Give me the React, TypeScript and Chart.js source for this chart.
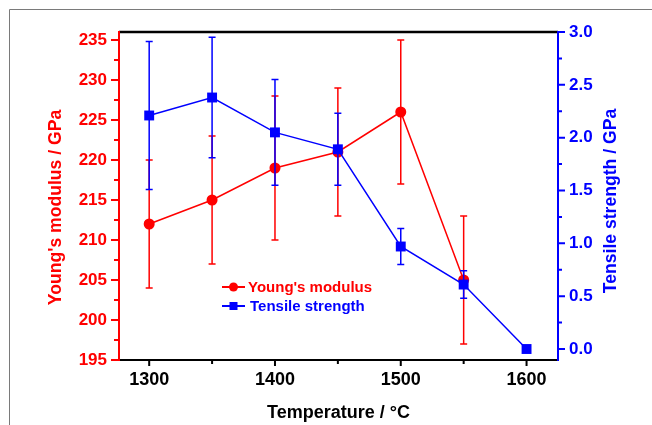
import { useEffect, useRef } from 'react';
import { Chart, registerables } from 'chart.js';

Chart.register(...registerables);

// ---- data ----
const youngTemps = [1300, 1350, 1400, 1450, 1500, 1550];
const youngModulus = [212, 215, 219, 221, 226, 205];
const youngError = [8, 8, 9, 8, 9, 8];

const tensileTemps = [1300, 1350, 1400, 1450, 1500, 1550, 1600];
const tensileStrength = [2.21, 2.38, 2.05, 1.89, 0.97, 0.61, 0.0];
const tensileError = [0.7, 0.57, 0.5, 0.34, 0.17, 0.13, 0];

const xMajorTicks = [1300, 1400, 1500, 1600];
const xMinorTicks = [1350, 1450, 1550];
const yLeftMajorTicks = [195, 200, 205, 210, 215, 220, 225, 230, 235];
const yLeftMinorTicks = [197.5, 202.5, 207.5, 212.5, 217.5, 222.5, 227.5, 232.5];
const yRightMajorTicks = [0, 0.5, 1.0, 1.5, 2.0, 2.5, 3.0];
const yRightMinorTicks = [0.25, 0.75, 1.25, 1.75, 2.25, 2.75];

const xTitle = 'Temperature / °C';
const yLeftTitle = "Young's modulus / GPa";
const yRightTitle = 'Tensile strength / GPa';
const youngLabel = "Young's modulus";
const tensileLabel = 'Tensile strength';

const RED = '#ff0000';
const BLUE = '#0000ff';
const FONT = '"Liberation Sans", Arial, Helvetica, sans-serif';

const errorsByDataset: number[][] = [tensileError, youngError];

const decorPlugin = {
  id: 'decor',
  beforeDraw(chart: any) {
    const { ctx, width, height } = chart;
    ctx.save();
    ctx.fillStyle = '#ffffff';
    ctx.fillRect(0, 0, width, height);
    ctx.strokeStyle = '#7a7a7a';
    ctx.lineWidth = 1;
    ctx.beginPath();
    ctx.moveTo(9.5, height);
    ctx.lineTo(9.5, 9.5);
    ctx.lineTo(width, 9.5);
    ctx.stroke();
    ctx.restore();
  },
  beforeDatasetDraw(chart: any, args: any) {
    const idx = args.index;
    const meta = chart.getDatasetMeta(idx);
    const ds = chart.data.datasets[idx];
    const yScale = chart.scales[meta.yAxisID];
    const errs = errorsByDataset[idx];
    const ctx = chart.ctx;
    ctx.save();
    ctx.strokeStyle = ds.borderColor;
    ctx.lineWidth = 1.5;
    meta.data.forEach((pt: any, i: number) => {
      const e = errs[i];
      if (!e) return;
      const v = ds.data[i].y;
      const yTop = yScale.getPixelForValue(v + e);
      const yBot = yScale.getPixelForValue(v - e);
      const x = pt.x;
      ctx.beginPath();
      ctx.moveTo(x, yTop);
      ctx.lineTo(x, yBot);
      ctx.moveTo(x - 3.5, yTop);
      ctx.lineTo(x + 3.5, yTop);
      ctx.moveTo(x - 3.5, yBot);
      ctx.lineTo(x + 3.5, yBot);
      ctx.stroke();
    });
    ctx.restore();
  },
  afterDraw(chart: any) {
    const { ctx, chartArea } = chart;
    const { left, right, top, bottom } = chartArea;
    const xs = chart.scales.x;
    const yl = chart.scales.y;
    const yr = chart.scales.y1;
    ctx.save();
    ctx.lineCap = 'butt';

    // ticks
    const tick = (color: string, fn: () => void) => {
      ctx.strokeStyle = color;
      ctx.lineWidth = 2;
      ctx.beginPath();
      fn();
      ctx.stroke();
    };
    tick(RED, () => {
      yLeftMajorTicks.forEach((v) => {
        const y = yl.getPixelForValue(v);
        ctx.moveTo(left, y);
        ctx.lineTo(left - 8, y);
      });
      yLeftMinorTicks.forEach((v) => {
        const y = yl.getPixelForValue(v);
        ctx.moveTo(left, y);
        ctx.lineTo(left - 5, y);
      });
    });
    tick(BLUE, () => {
      yRightMajorTicks.forEach((v) => {
        const y = yr.getPixelForValue(v);
        ctx.moveTo(right, y);
        ctx.lineTo(right + 7, y);
      });
      yRightMinorTicks.forEach((v) => {
        const y = yr.getPixelForValue(v);
        ctx.moveTo(right, y);
        ctx.lineTo(right + 4, y);
      });
    });
    tick('#000000', () => {
      xMajorTicks.forEach((v) => {
        const x = xs.getPixelForValue(v);
        ctx.moveTo(x, bottom);
        ctx.lineTo(x, bottom + 6);
      });
      xMinorTicks.forEach((v) => {
        const x = xs.getPixelForValue(v);
        ctx.moveTo(x, bottom);
        ctx.lineTo(x, bottom + 4);
      });
    });

    // axis lines
    ctx.strokeStyle = '#000000';
    ctx.lineWidth = 2.5;
    ctx.beginPath();
    ctx.moveTo(left, top);
    ctx.lineTo(right, top);
    ctx.stroke();
    ctx.lineWidth = 2;
    ctx.beginPath();
    ctx.moveTo(left, bottom);
    ctx.lineTo(right, bottom);
    ctx.stroke();
    ctx.strokeStyle = RED;
    ctx.beginPath();
    ctx.moveTo(left, top - 1);
    ctx.lineTo(left, bottom + 1);
    ctx.stroke();
    ctx.strokeStyle = BLUE;
    ctx.beginPath();
    ctx.moveTo(right, top - 1);
    ctx.lineTo(right, bottom + 1);
    ctx.stroke();

    // axis titles
    ctx.textAlign = 'center';
    ctx.textBaseline = 'middle';
    ctx.font = `bold 17.6px ${FONT}`;
    ctx.fillStyle = RED;
    ctx.save();
    ctx.translate(56, 207.5);
    ctx.rotate(-Math.PI / 2);
    ctx.fillText(yLeftTitle, 0, 0);
    ctx.restore();
    ctx.fillStyle = BLUE;
    ctx.save();
    ctx.translate(611, 201);
    ctx.rotate(-Math.PI / 2);
    ctx.fillText(yRightTitle, 0, 0);
    ctx.restore();
    ctx.fillStyle = '#000000';
    ctx.font = `bold 18px ${FONT}`;
    ctx.fillText(xTitle, (left + right) / 2, 413);

    // legend
    ctx.font = `bold 15px ${FONT}`;
    ctx.textAlign = 'left';
    const rows = [
      { label: youngLabel, color: RED, shape: 'circle', y: 287, tx: 248 },
      { label: tensileLabel, color: BLUE, shape: 'rect', y: 306, tx: 250 },
    ];
    rows.forEach((r) => {
      ctx.strokeStyle = r.color;
      ctx.fillStyle = r.color;
      ctx.lineWidth = 2;
      ctx.beginPath();
      ctx.moveTo(222, r.y);
      ctx.lineTo(245, r.y);
      ctx.stroke();
      ctx.beginPath();
      if (r.shape === 'circle') {
        ctx.arc(233.5, r.y, 4.5, 0, Math.PI * 2);
      } else {
        ctx.rect(229.5, r.y - 4, 8, 8);
      }
      ctx.fill();
      ctx.fillText(r.label, r.tx, r.y + 1);
    });
    ctx.restore();
  },
};

export default function App() {
  const canvasRef = useRef<HTMLCanvasElement | null>(null);

  useEffect(() => {
    const canvas = canvasRef.current;
    if (!canvas) return;
    const chart = new Chart(canvas, {
      type: 'line',
      data: {
        datasets: [
          {
            label: tensileLabel,
            data: tensileTemps.map((t, i) => ({ x: t, y: tensileStrength[i] })),
            yAxisID: 'y1',
            borderColor: BLUE,
            backgroundColor: BLUE,
            borderWidth: 1.5,
            pointStyle: 'rect',
            pointRadius: 7,
            pointBorderWidth: 0,
            tension: 0,
            order: 0,
          },
          {
            label: youngLabel,
            data: youngTemps.map((t, i) => ({ x: t, y: youngModulus[i] })),
            yAxisID: 'y',
            borderColor: RED,
            backgroundColor: RED,
            borderWidth: 1.5,
            pointStyle: 'circle',
            pointRadius: 5.5,
            pointBorderWidth: 0,
            tension: 0,
            order: 1,
          },
        ],
      },
      options: {
        responsive: false,
        animation: false,
        events: [],
        layout: { padding: { top: 32, left: 0, right: 0, bottom: 0 } },
        plugins: { legend: { display: false }, tooltip: { enabled: false } },
        scales: {
          x: {
            type: 'linear',
            min: 1276,
            max: 1625,
            grid: { display: false, drawTicks: false },
            border: { display: false },
            ticks: {
              stepSize: 100,
              includeBounds: false,
              color: '#000000',
              padding: 9,
              maxRotation: 0,
              font: { family: FONT, size: 18, weight: 'bold' },
              callback: (v: any) => String(v),
            },
            afterFit: (s: any) => {
              s.height = 65;
            },
          },
          y: {
            type: 'linear',
            position: 'left',
            min: 195,
            max: 236,
            grid: { display: false, drawTicks: false },
            border: { display: false },
            ticks: {
              stepSize: 5,
              includeBounds: false,
              color: RED,
              padding: 12,
              font: { family: FONT, size: 17, weight: 'bold' },
              callback: (v: any) => String(v),
            },
            afterFit: (s: any) => {
              s.width = 119;
            },
          },
          y1: {
            type: 'linear',
            position: 'right',
            min: -0.104,
            max: 3.0,
            grid: { display: false, drawTicks: false },
            border: { display: false },
            ticks: {
              stepSize: 0.5,
              includeBounds: false,
              color: BLUE,
              padding: 11,
              font: { family: FONT, size: 17, weight: 'bold' },
              callback: (v: any) => Number(v).toFixed(1),
            },
            afterFit: (s: any) => {
              s.width = 94;
            },
          },
        },
      },
      plugins: [decorPlugin],
    } as any);
    return () => chart.destroy();
  }, []);

  return (
    <div style={{ position: 'absolute', left: 0, top: 0, width: 652, height: 425, background: '#fff' }}>
      <canvas ref={canvasRef} width={652} height={425} style={{ display: 'block', width: 652, height: 425 }} />
    </div>
  );
}
